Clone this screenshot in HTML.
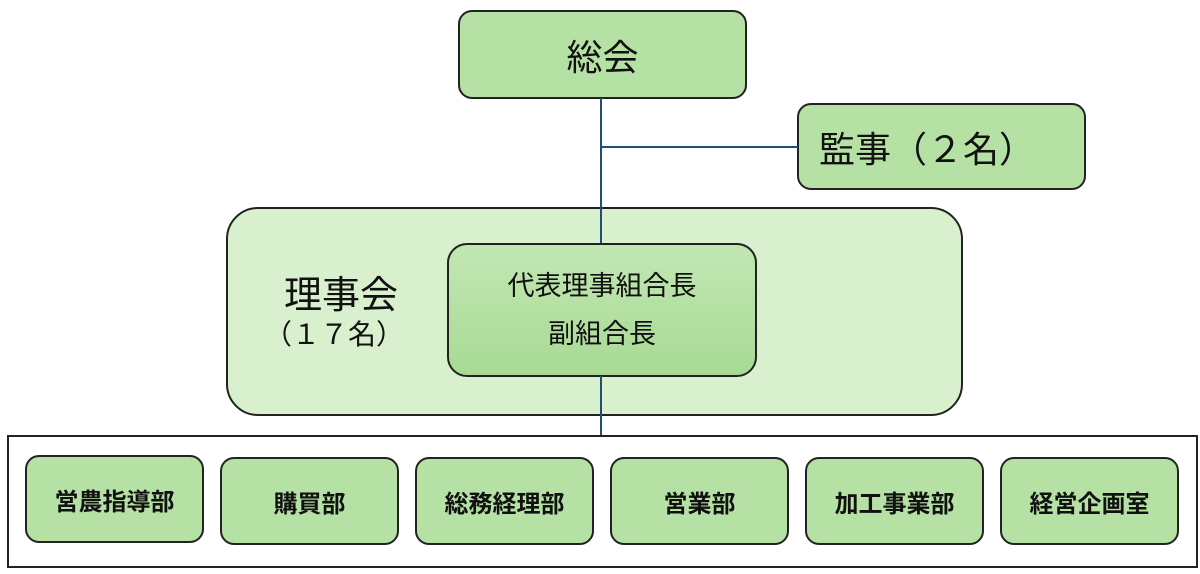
<!DOCTYPE html>
<html><head><meta charset="utf-8"><style>
body{margin:0;width:1200px;height:574px;background:#fff;position:relative;overflow:hidden;font-family:"Liberation Sans","Noto Sans CJK JP",sans-serif;color:#111}
.b{position:absolute;box-sizing:border-box;border:2.5px solid #222;border-radius:14px;background:#b5e1a5;display:flex;align-items:center;justify-content:center;text-align:center}
.l{position:absolute;background:#1f4e79}
.d{font-size:24px;font-weight:bold}
</style></head><body>
<div class="b" style="left:458px;top:10px;width:289px;height:89px;font-size:36px">総会</div>
<div class="b" style="left:797px;top:103px;width:289px;height:87px;font-size:36px;justify-content:flex-start;padding-left:20px">監事（２名）</div>
<div class="l" style="left:600px;top:98px;width:2px;height:146px"></div>
<div class="l" style="left:601px;top:146px;width:197px;height:2px"></div>
<div class="b" style="left:226px;top:207px;width:737px;height:209px;border-radius:32px;background:#d9f0cf"></div>
<div style="position:absolute;left:284px;top:264px;font-size:38px">理事会</div>
<div style="position:absolute;left:264px;top:313px;font-size:28px">（１７名）</div>
<div class="l" style="left:600px;top:207px;width:2px;height:37px"></div>
<div class="b" style="left:447px;top:243px;width:310px;height:134px;border-radius:20px;background:linear-gradient(#c2e7b3,#a8da95);font-size:27px;line-height:48px"><div>代表理事組合長<br>副組合長</div></div>
<div class="l" style="left:600px;top:376px;width:2px;height:60px"></div>
<div style="position:absolute;left:7px;top:435px;width:1191px;height:133px;box-sizing:border-box;border:2.5px solid #222"></div>
<div class="b d" style="left:25px;top:455px;width:179px;height:88px">営農指導部</div>
<div class="b d" style="left:220px;top:457px;width:179px;height:88px">購買部</div>
<div class="b d" style="left:415px;top:457px;width:179px;height:88px">総務経理部</div>
<div class="b d" style="left:610px;top:457px;width:179px;height:88px">営業部</div>
<div class="b d" style="left:805px;top:457px;width:179px;height:88px">加工事業部</div>
<div class="b d" style="left:1000px;top:457px;width:179px;height:88px">経営企画室</div>
</body></html>
